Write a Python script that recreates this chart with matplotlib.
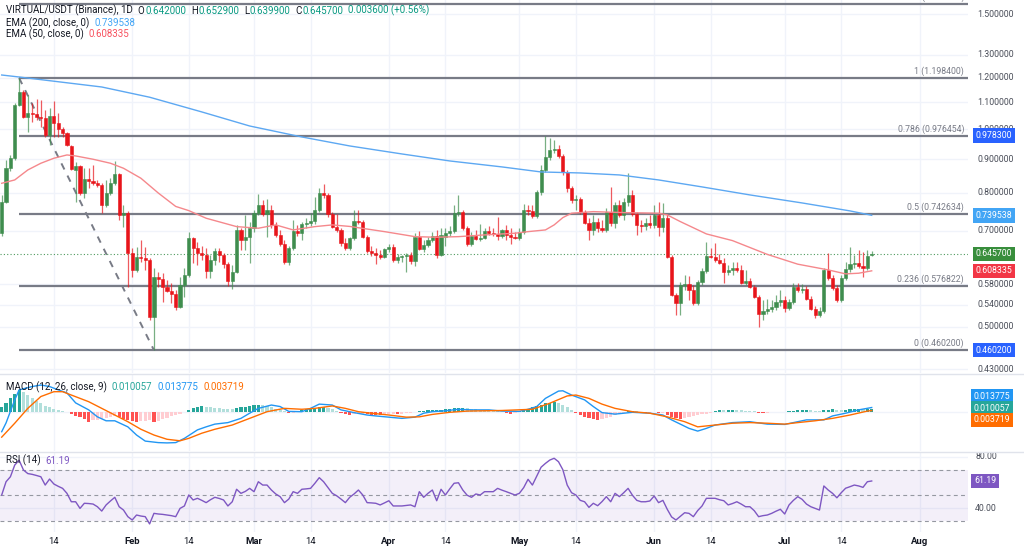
import datetime as dt
import numpy as np
import matplotlib
matplotlib.use("Agg")
import matplotlib.pyplot as plt
from matplotlib.transforms import blended_transform_factory, offset_copy
from matplotlib.lines import Line2D
from matplotlib.patches import Rectangle

plt.rcParams['font.family'] = ['Roboto', 'DejaVu Sans']

# ---------------- data ----------------
start_date = dt.date(2025, 1, 2)

opens = [0.6951, 0.7750, 0.8734, 0.9047, 1.0899, 1.1409, 1.0449, 1.0596, 1.0559, 1.0449,
 1.0412, 0.9809, 1.0485, 1.0231, 1.0018, 0.9878, 0.9437, 0.8673, 0.8796, 0.8000,
 0.8403, 0.8345, 0.8286, 0.8228, 0.7669, 0.8000, 0.8286, 0.8552, 0.7405, 0.7458,
 0.6479, 0.6103, 0.6388, 0.6366, 0.6321, 0.5174, 0.5955, 0.5913, 0.5750, 0.5670,
 0.5610, 0.5359, 0.5790, 0.5997, 0.6830, 0.6594, 0.6479, 0.6433, 0.6082, 0.6321,
 0.6525, 0.6433, 0.6233, 0.5872, 0.6060, 0.7024, 0.6782, 0.6854, 0.7074, 0.7458,
 0.7669, 0.7431, 0.7536, 0.7149, 0.6902, 0.6688, 0.6277, 0.6594, 0.6999, 0.6951,
 0.7174, 0.7200, 0.7251, 0.7536, 0.8000, 0.7944, 0.7431, 0.7099, 0.7024, 0.6712,
 0.6594, 0.6830, 0.7251, 0.7226, 0.6854, 0.6525, 0.6479, 0.6433, 0.6388, 0.6571,
 0.6617, 0.6321, 0.6388, 0.6410, 0.6433, 0.6299, 0.6854, 0.6571, 0.6664, 0.6782,
 0.6878, 0.6433, 0.6854, 0.6951, 0.6999, 0.7458, 0.7484, 0.7074, 0.6688, 0.6878,
 0.6806, 0.6830, 0.6999, 0.6951, 0.6926, 0.6878, 0.7024, 0.6902, 0.6854, 0.6830,
 0.6975, 0.7536, 0.7510, 0.7379, 0.8028, 0.8673, 0.9079, 0.9305, 0.9338, 0.9111,
 0.8612, 0.8142, 0.7805, 0.7833, 0.7484, 0.7200, 0.7024, 0.7226, 0.7074, 0.7024,
 0.7484, 0.7200, 0.7669, 0.7405, 0.7750, 0.7944, 0.7431, 0.7149, 0.7124, 0.7200,
 0.7149, 0.7405, 0.7099, 0.7327, 0.6388, 0.5590, 0.5435, 0.5790, 0.5810, 0.5689,
 0.5435, 0.5851, 0.6082, 0.6410, 0.6388, 0.6321, 0.6255, 0.6060, 0.6103, 0.6146,
 0.6103, 0.5831, 0.5872, 0.5750, 0.5551, 0.5228, 0.5284, 0.5321, 0.5359, 0.5454,
 0.5492, 0.5340, 0.5454, 0.5750, 0.5689, 0.5709, 0.5512, 0.5321, 0.5210, 0.5284,
 0.6103, 0.5934, 0.5729, 0.5492, 0.5934, 0.6125, 0.6233, 0.6255, 0.6189, 0.6146,
 0.6420]

highs = [0.7944, 0.8984, 0.9143, 1.0976, 1.1984, 1.1489, 1.1289, 1.0976, 1.1130, 1.1091,
 1.0709, 1.0785, 1.1052, 1.0596, 1.0088, 0.9913, 0.9470, 0.8921, 0.8827, 0.8734,
 0.8734, 0.8827, 0.8374, 0.8286, 0.8374, 0.8433, 0.8952, 0.8582, 0.7669, 0.7510,
 0.6594, 0.6617, 0.6782, 0.6617, 0.6366, 0.6146, 0.6060, 0.6039, 0.5892, 0.5831,
 0.5689, 0.5955, 0.6146, 0.6975, 0.6854, 0.6735, 0.6641, 0.6594, 0.6433, 0.6594,
 0.6594, 0.6479, 0.6277, 0.6211, 0.7149, 0.7074, 0.7405, 0.7226, 0.7536, 0.7972,
 0.7805, 0.7833, 0.7669, 0.7226, 0.7024, 0.6782, 0.6641, 0.7276, 0.7149, 0.7226,
 0.7327, 0.7458, 0.7889, 0.8142, 0.8257, 0.8000, 0.7484, 0.7431, 0.7074, 0.6830,
 0.6854, 0.7536, 0.7536, 0.7276, 0.6902, 0.6641, 0.6594, 0.6548, 0.6594, 0.6688,
 0.6688, 0.6456, 0.6433, 0.6479, 0.6502, 0.6951, 0.6999, 0.6782, 0.6854, 0.6975,
 0.7024, 0.7074, 0.7074, 0.7124, 0.7669, 0.7944, 0.7536, 0.7124, 0.6975, 0.7024,
 0.7174, 0.7074, 0.7124, 0.7074, 0.7353, 0.7049, 0.7149, 0.7074, 0.6975, 0.7074,
 0.7696, 0.7669, 0.7669, 0.8085, 0.8827, 0.9783, 0.9706, 0.9638, 0.9470, 0.9175,
 0.8673, 0.8199, 0.7944, 0.7889, 0.7536, 0.7327, 0.7405, 0.7327, 0.7276, 0.7589,
 0.8171, 0.7750, 0.7805, 0.7860, 0.8582, 0.8085, 0.7484, 0.7276, 0.7327, 0.7405,
 0.7669, 0.7750, 0.7723, 0.7431, 0.6433, 0.5629, 0.5851, 0.5997, 0.5976, 0.5790,
 0.5892, 0.6146, 0.6735, 0.6594, 0.6712, 0.6456, 0.6366, 0.6211, 0.6277, 0.6277,
 0.6211, 0.6103, 0.5934, 0.5790, 0.5590, 0.5492, 0.5512, 0.5492, 0.5590, 0.5689,
 0.5571, 0.5512, 0.5831, 0.5831, 0.5810, 0.5770, 0.5571, 0.5378, 0.5359, 0.6146,
 0.6479, 0.5997, 0.5790, 0.5997, 0.6277, 0.6617, 0.6433, 0.6548, 0.6502, 0.6548,
 0.6529]

lows = [0.6878, 0.7723, 0.8650, 0.8984, 1.0861, 1.0412, 0.9913, 1.0266, 1.0339, 1.0088,
 0.9740, 0.9470, 0.9740, 0.9740, 0.9740, 0.9437, 0.8673, 0.7750, 0.7944, 0.7860,
 0.8142, 0.8228, 0.8171, 0.7458, 0.7615, 0.7944, 0.8228, 0.7276, 0.7099, 0.5750,
 0.5955, 0.6060, 0.6277, 0.6103, 0.5119, 0.4602, 0.5750, 0.5454, 0.5650, 0.5435,
 0.5302, 0.5340, 0.5551, 0.5955, 0.6255, 0.6211, 0.6321, 0.5934, 0.5934, 0.6211,
 0.6277, 0.6146, 0.5770, 0.5709, 0.6039, 0.6548, 0.6548, 0.6255, 0.6975, 0.7405,
 0.7379, 0.6854, 0.7074, 0.6854, 0.6641, 0.6233, 0.6211, 0.6548, 0.6878, 0.6782,
 0.7074, 0.7124, 0.7174, 0.7484, 0.7860, 0.7353, 0.7074, 0.6975, 0.6641, 0.6548,
 0.6548, 0.6782, 0.7174, 0.6830, 0.6479, 0.6410, 0.6233, 0.6343, 0.6366, 0.6502,
 0.6277, 0.6255, 0.6277, 0.6060, 0.6233, 0.6189, 0.6548, 0.6502, 0.6617, 0.6735,
 0.6366, 0.6410, 0.6641, 0.6878, 0.6951, 0.7379, 0.7024, 0.6641, 0.6641, 0.6782,
 0.6759, 0.6806, 0.6902, 0.6878, 0.6782, 0.6830, 0.6782, 0.6688, 0.6806, 0.6782,
 0.6926, 0.7405, 0.7327, 0.7327, 0.7944, 0.8612, 0.8984, 0.9207, 0.9047, 0.8522,
 0.8028, 0.7723, 0.7536, 0.7431, 0.7174, 0.6782, 0.6902, 0.6975, 0.6975, 0.6975,
 0.7124, 0.7074, 0.7353, 0.7276, 0.7642, 0.7379, 0.6902, 0.6975, 0.7024, 0.7074,
 0.7074, 0.6878, 0.6975, 0.6366, 0.5570, 0.5210, 0.5210, 0.5689, 0.5492, 0.5397,
 0.5397, 0.5790, 0.6039, 0.6366, 0.6277, 0.6233, 0.5831, 0.5997, 0.5997, 0.6060,
 0.5810, 0.5790, 0.5729, 0.5531, 0.4995, 0.5119, 0.5228, 0.5265, 0.5302, 0.5378,
 0.5265, 0.5302, 0.5416, 0.5650, 0.5630, 0.5492, 0.5302, 0.5155, 0.5174, 0.5247,
 0.5892, 0.5689, 0.5454, 0.5454, 0.5892, 0.6060, 0.6146, 0.6146, 0.5955, 0.6103,
 0.6399]

closes = [0.7750, 0.8734, 0.9047, 1.0899, 1.1409, 1.0449, 1.0596, 1.0559, 1.0449, 1.0412,
 0.9809, 1.0485, 1.0231, 1.0018, 0.9878, 0.9470, 0.8704, 0.8796, 0.8000, 0.8403,
 0.8345, 0.8286, 0.8228, 0.7669, 0.8000, 0.8286, 0.8552, 0.7405, 0.7458, 0.6479,
 0.6103, 0.6388, 0.6366, 0.6321, 0.5174, 0.5955, 0.5913, 0.5750, 0.5670, 0.5610,
 0.5359, 0.5790, 0.5997, 0.6830, 0.6594, 0.6479, 0.6433, 0.6082, 0.6321, 0.6525,
 0.6433, 0.6233, 0.5872, 0.6060, 0.7024, 0.6782, 0.6854, 0.7074, 0.7458, 0.7669,
 0.7431, 0.7536, 0.7149, 0.6902, 0.6688, 0.6277, 0.6594, 0.6999, 0.6951, 0.7174,
 0.7200, 0.7251, 0.7536, 0.8000, 0.7944, 0.7431, 0.7099, 0.7024, 0.6712, 0.6594,
 0.6830, 0.7251, 0.7226, 0.6854, 0.6525, 0.6479, 0.6433, 0.6388, 0.6571, 0.6617,
 0.6321, 0.6388, 0.6410, 0.6433, 0.6299, 0.6854, 0.6571, 0.6664, 0.6782, 0.6878,
 0.6433, 0.6902, 0.6951, 0.6999, 0.7458, 0.7484, 0.7074, 0.6688, 0.6878, 0.6806,
 0.6830, 0.6999, 0.6951, 0.6926, 0.6878, 0.7024, 0.6902, 0.6854, 0.6830, 0.6975,
 0.7536, 0.7510, 0.7379, 0.8028, 0.8673, 0.9079, 0.9305, 0.9338, 0.9111, 0.8612,
 0.8142, 0.7805, 0.7833, 0.7484, 0.7200, 0.7024, 0.7226, 0.7074, 0.7024, 0.7484,
 0.7200, 0.7669, 0.7405, 0.7750, 0.7944, 0.7431, 0.7149, 0.7124, 0.7200, 0.7149,
 0.7405, 0.7099, 0.7327, 0.6388, 0.5590, 0.5435, 0.5790, 0.5810, 0.5689, 0.5435,
 0.5851, 0.6082, 0.6410, 0.6388, 0.6321, 0.6255, 0.6060, 0.6103, 0.6146, 0.6103,
 0.5831, 0.5872, 0.5750, 0.5551, 0.5228, 0.5284, 0.5321, 0.5359, 0.5454, 0.5492,
 0.5340, 0.5454, 0.5750, 0.5689, 0.5709, 0.5512, 0.5321, 0.5210, 0.5284, 0.6103,
 0.5934, 0.5729, 0.5492, 0.5934, 0.6125, 0.6233, 0.6255, 0.6189, 0.6146, 0.6410,
 0.6457]

ema200_idx = [0, 4, 23, 34, 46, 57, 69, 80, 92, 103, 115, 124, 133, 142, 151, 161, 172, 184, 195, 200]
ema200_val = [1.2111, 1.2026, 1.1611, 1.1201, 1.0636, 1.0123, 0.9740, 0.9437, 0.9175, 0.8952,
              0.8766, 0.8612, 0.8582, 0.8522, 0.8374, 0.8171, 0.7944, 0.7723, 0.7510, 0.7395]

ema50_idx = [0, 3, 6, 9, 12, 15, 17, 21, 25, 28, 32, 36, 40, 43, 47, 54, 59, 63, 67, 72, 76, 80,
             88, 95, 100, 105, 111, 118, 121, 125, 127, 129, 131, 136, 143, 151, 153, 156, 162,
             168, 176, 183, 190, 194, 197, 200]
ema50_val = [0.8276, 0.8374, 0.8673, 0.8880, 0.9038, 0.9143, 0.9111, 0.9006, 0.8880, 0.8725,
             0.8424, 0.7997, 0.7629, 0.7518, 0.7319, 0.7106, 0.7066, 0.7149, 0.7024, 0.7106,
             0.7149, 0.7111, 0.6982, 0.6860, 0.6846, 0.6860, 0.6902, 0.6943, 0.6982, 0.7024,
             0.7149, 0.7335, 0.7449, 0.7491, 0.7465, 0.7449, 0.7405, 0.7233, 0.6926, 0.6765,
             0.6445, 0.6227, 0.6103, 0.6018, 0.6032, 0.6083]

fib_levels = [1.272, 1.0, 0.786, 0.5, 0.236, 0.0]
fib_prices = [1.554800, 1.198400, 0.976454, 0.742634, 0.576822, 0.460200]
fib_anchor_idx = [4, 35]

macd_hist = [0.017, 0.029, 0.045, 0.058, 0.072, 0.066, 0.055, 0.045, 0.036, 0.028,
 0.020, 0.015, 0.010, 0.006, 0.003, -0.002, -0.008, -0.014, -0.018, -0.025,
 -0.033, -0.028, -0.026, -0.024, -0.020, -0.018, -0.015, -0.018, -0.024, -0.028,
 -0.032, -0.033, -0.030, -0.030, -0.028, -0.035, -0.030, -0.025, -0.020, -0.015,
 -0.010, -0.006, -0.002, 0.006, 0.012, 0.016, 0.018, 0.016, 0.014, 0.012,
 0.011, 0.010, 0.009, 0.008, 0.012, 0.015, 0.017, 0.019, 0.021, 0.023,
 0.022, 0.020, 0.015, 0.010, 0.006, 0.003, -0.005, -0.003, 0.002, 0.006,
 0.009, 0.012, 0.013, 0.015, 0.016, 0.012, 0.008, 0.003, -0.004, -0.008,
 -0.010, -0.008, -0.007, -0.006, -0.008, -0.010, -0.011, -0.012, -0.010, -0.008,
 -0.006, -0.008, -0.006, -0.005, -0.004, -0.002, 0.001, 0.003, 0.004, 0.005,
 0.006, 0.007, 0.008, 0.009, 0.011, 0.012, 0.013, 0.011, 0.009, 0.008,
 0.006, 0.005, 0.004, 0.002, 0.001, -0.002, -0.004, -0.006, -0.003, 0.003,
 0.006, 0.010, 0.014, 0.018, 0.023, 0.028, 0.030, 0.033, 0.030, 0.022,
 0.014, 0.006, -0.004, -0.011, -0.017, -0.022, -0.025, -0.026, -0.024, -0.020,
 -0.016, -0.012, -0.008, -0.004, 0.002, 0.003, 0.001, -0.002, -0.003, -0.003,
 -0.002, -0.005, -0.004, -0.010, -0.018, -0.022, -0.023, -0.020, -0.018, -0.015,
 -0.012, -0.009, -0.006, -0.003, 0.003, 0.005, 0.004, 0.005, 0.006, 0.005,
 0.004, 0.003, 0.002, 0.001, -0.003, -0.004, -0.003, -0.002, -0.002, -0.001,
 -0.001, 0.001, 0.002, 0.004, 0.005, 0.006, 0.004, 0.003, 0.002, 0.004,
 0.007, 0.008, 0.006, 0.005, 0.007, 0.008, 0.009, 0.0095, 0.009, 0.0098,
 0.010057]

macd_idx = [0, 1, 3, 4, 7, 9, 11, 13, 15, 17, 20, 22, 24, 26, 29, 31, 33, 36, 38, 40,
            42, 45, 47, 49, 52, 55, 57, 59, 62, 64, 66, 69, 71, 73, 76, 78, 81, 84, 86, 89,
            92, 95, 97, 99, 102, 105, 108, 112, 115, 119, 121, 123, 125, 128, 129, 131, 134,
            136, 138, 141, 145, 149, 152, 154, 158, 160, 162, 164, 168, 172, 176, 180, 182,
            185, 189, 191, 194, 197, 200]
macd_val = [-0.066, -0.037, 0.039, 0.072, 0.083, 0.088, 0.083, 0.072, 0.062, 0.029,
            0.006, -0.017, -0.030, -0.030, -0.050, -0.077, -0.097, -0.102, -0.103, -0.102,
            -0.088, -0.060, -0.050, -0.041, -0.036, -0.022, -0.005, 0.011, 0.022, 0.017,
            0.001, 0.000, 0.011, 0.025, 0.022, 0.006, -0.003, -0.011, -0.014, -0.018,
            -0.022, -0.018, -0.005, 0.000, 0.003, 0.008, 0.006, 0.006, 0.002, 0.001,
            0.008, 0.017, 0.044, 0.068, 0.069, 0.055, 0.039, 0.017, -0.003, -0.008,
            -0.002, -0.005, -0.011, -0.027, -0.055, -0.064, -0.055, -0.044, -0.036, -0.033,
            -0.041, -0.042, -0.036, -0.027, -0.027, -0.014, -0.005, 0.006, 0.013775]

signal_idx = [0, 3, 6, 9, 12, 14, 16, 20, 23, 26, 29, 32, 35, 38, 41, 43, 46, 49, 53, 57,
              61, 65, 69, 72, 76, 79, 82, 85, 89, 93, 96, 99, 103, 107, 111, 115, 122, 126,
              130, 132, 135, 138, 141, 145, 149, 153, 157, 160, 164, 168, 172, 176, 180, 183,
              187, 191, 195, 199, 200]
signal_val = [-0.084, -0.038, 0.011, 0.050, 0.066, 0.066, 0.055, 0.033, 0.011, -0.011,
              -0.033, -0.058, -0.077, -0.091, -0.096, -0.088, -0.071, -0.058, -0.044, -0.022,
              0.000, 0.011, 0.008, 0.011, 0.019, 0.011, 0.000, -0.005, -0.011, -0.018,
              -0.017, -0.009, -0.002, 0.002, 0.003, 0.004, 0.008, 0.028, 0.052, 0.055,
              0.044, 0.025, 0.011, 0.000, -0.005, -0.017, -0.033, -0.050, -0.044, -0.038,
              -0.036, -0.038, -0.041, -0.036, -0.030, -0.022, -0.011, 0.002, 0.003719]

rsi = [50.2, 60.6, 64.5, 73.7, 77.5, 69.8, 67.0, 66.4, 65.5, 64.5,
 58.0, 62.7, 58.8, 57.0, 55.4, 51.5, 44.9, 44.9, 39.7, 43.7,
 43.5, 43.1, 41.0, 37.6, 42.4, 45.5, 48.4, 41.0, 38.4, 33.2,
 30.6, 34.5, 33.7, 33.2, 27.5, 35.8, 35.3, 35.0, 34.5, 34.0,
 33.2, 39.7, 41.6, 50.2, 46.3, 47.6, 46.0, 44.2, 46.5, 48.4,
 47.5, 46.3, 41.6, 44.9, 54.7, 51.5, 53.0, 55.4, 52.8, 60.6,
 58.0, 58.0, 54.1, 51.0, 48.9, 44.2, 47.0, 52.8, 51.5, 54.7,
 55.0, 55.4, 59.4, 63.8, 60.6, 56.0, 51.5, 49.6, 47.0, 44.2,
 48.4, 51.0, 54.1, 50.2, 44.2, 44.0, 43.7, 42.4, 44.0, 45.7,
 41.6, 41.6, 41.6, 42.0, 42.4, 41.0, 52.8, 48.4, 51.5, 54.1,
 45.7, 54.7, 50.2, 55.0, 59.4, 59.8, 54.1, 50.0, 48.4, 51.0,
 50.2, 52.8, 52.8, 52.8, 55.4, 54.0, 52.8, 51.5, 50.2, 51.5,
 56.0, 62.5, 58.0, 65.0, 72.0, 75.0, 77.6, 79.0, 76.3, 70.0,
 58.0, 52.0, 50.2, 46.0, 44.9, 40.5, 43.7, 41.8, 45.0, 48.9,
 44.9, 51.5, 48.9, 52.0, 55.4, 50.0, 46.0, 44.9, 44.9, 45.5,
 49.4, 44.2, 46.0, 39.0, 33.0, 30.6, 33.5, 36.3, 35.8, 33.2,
 38.0, 41.6, 47.6, 47.6, 47.6, 46.5, 45.7, 42.4, 43.5, 44.9,
 43.1, 41.0, 41.0, 37.9, 33.2, 34.0, 34.5, 35.8, 37.5, 39.0,
 35.3, 42.4, 46.0, 48.9, 46.8, 43.1, 41.0, 39.7, 38.4, 57.3,
 54.1, 51.5, 48.0, 52.0, 55.5, 56.7, 58.0, 57.3, 56.2, 60.6,
 61.19]

price_ticks = [1.5, 1.3, 1.2, 1.1, 1.0, 0.9, 0.8, 0.7, 0.58, 0.54, 0.50, 0.43]
rsi_ticks = [80, 40]
tick_dates = [dt.date(2025, 1, 14), dt.date(2025, 2, 1), dt.date(2025, 2, 14), dt.date(2025, 3, 1),
              dt.date(2025, 3, 14), dt.date(2025, 4, 1), dt.date(2025, 4, 14), dt.date(2025, 5, 1),
              dt.date(2025, 5, 14), dt.date(2025, 6, 1), dt.date(2025, 6, 14), dt.date(2025, 7, 1),
              dt.date(2025, 7, 14), dt.date(2025, 8, 1)]
tick_labels = ['14', 'Feb', '14', 'Mar', '14', 'Apr', '14', 'May', '14', 'Jun', '14', 'Jul', '14', 'Aug']

# ---------------- layout ----------------
W, H = 1024, 557
fig = plt.figure(figsize=(W / 100, H / 100), dpi=100)
fig.patch.set_facecolor('white')
PR = 968  # right edge of plotting area in px
FS = 6.3
FSL = 7.0
TXT = '#131722'
AXT = '#4a4e59'
GRID = '#f0f3fa'
FIBC = '#787b86'
UP = '#3f8d4e'
DN = '#e8151b'


def add_ax(y0, y1):
    return fig.add_axes([0, 1 - y1 / H, PR / W, (y1 - y0) / H])


ax = add_ax(0, 373)
axm = add_ax(374, 451)
axr = add_ax(452, 532)

n = len(closes)
x = np.arange(n)
XMIN = -1.7 / 4.35
XMAX = (PR - 1.7) / 4.35
tick_pos = [(d - start_date).days for d in tick_dates]

for a in (ax, axm, axr):
    a.set_xlim(XMIN, XMAX)
    for s in a.spines.values():
        s.set_visible(False)
    a.set_facecolor('none')
    for p in tick_pos:
        a.axvline(p, color=GRID, lw=1, zorder=0)

ax.set_yscale('log')
ax.set_ylim(0.4247, 1.5766)
axm.set_ylim(-0.1297, 0.1244)
axr.set_ylim(21.18, 83.92)
for a in (ax, axm, axr):
    a.tick_params(which='both', left=False, right=False, bottom=False, top=False,
                  labelleft=False, labelbottom=False)
    a.yaxis.set_minor_locator(matplotlib.ticker.NullLocator())

# separators
for yy in (373.5, 451.5):
    fig.add_artist(Line2D([0, 1], [1 - yy / H, 1 - yy / H], color='#e0e3eb', lw=1))

# clip region for the main price scale (main pane height, full width)
main_clip = Rectangle((0, 1 - 373 / H), 1, 373 / H, transform=fig.transFigure,
                      fc='none', ec='none')

# ---------------- main pane ----------------
for v in price_ticks:
    ax.axhline(v, color=GRID, lw=1, zorder=0)

o = np.array(opens); c = np.array(closes); hi = np.array(highs); lo = np.array(lows)
up = c >= o
cols = np.where(up, UP, DN)
ax.vlines(x, lo, hi, colors=cols, lw=0.9, alpha=0.7, zorder=3)
bottom = np.minimum(o, c)
height = np.abs(c - o)
ax.bar(x, height, width=0.72, bottom=bottom, color=cols, edgecolor=cols, lw=0.4, zorder=4)

ax.plot(ema200_idx, ema200_val, color='#5da8f2', lw=1.0, zorder=5)
ax.plot(ema50_idx, ema50_val, color='#f5888c', lw=1.0, zorder=5)

# fibonacci retracement
ax.hlines(fib_prices, fib_anchor_idx[0], XMAX, color=FIBC, lw=1.6, zorder=2)
ax.plot(fib_anchor_idx, [fib_prices[1], fib_prices[-1]], color=FIBC, lw=1.4,
        ls=(0, (3.5, 3.5)), zorder=2)
lab_tr = offset_copy(blended_transform_factory(ax.transAxes, ax.transData), fig=fig, y=2.0, units='dots')
for lvl, p in zip(fib_levels, fib_prices):
    ax.text(964 / PR, p, f"{lvl:g} ({p:.6f})", transform=lab_tr, ha='right', va='bottom',
            color=FIBC, fontsize=FS, clip_on=True, zorder=6)

ax.axhline(closes[-1], color='#4e9a5e', lw=0.8, ls=(0, (1, 2)), zorder=2)

btr = blended_transform_factory(ax.transAxes, ax.transData)
for v in price_ticks:
    t = ax.text(977 / PR, v, f"{v:.6f}", transform=btr, ha='left', va='center', fontsize=FS,
                color=AXT, clip_on=True, zorder=7)
    t.set_clip_path(main_clip)


def box(a, yv, txt, fc, cx=993.7):
    a.text(cx / PR, yv, txt, transform=blended_transform_factory(a.transAxes, a.transData),
           ha='center', va='center', color='white', fontsize=FS, clip_on=False, zorder=9,
           bbox=dict(boxstyle='square,pad=0.32', fc=fc, ec='none'))


box(ax, highs[125], f"{highs[125]:.6f}", '#2962ff')
box(ax, ema200_val[-1], '0.739538', '#42a5f5')
box(ax, closes[-1], f"{closes[-1]:.6f}", '#388e3c')
box(ax, ema50_val[-1], '0.608335', '#f23645')
box(ax, fib_prices[-1], f"{fib_prices[-1]:.6f}", '#2962ff')

# ---------------- MACD pane ----------------
axm.axhline(0, color=GRID, lw=1, zorder=0)
hist = np.array(macd_hist)
hcols = []
for i, h in enumerate(hist):
    prev = hist[i - 1] if i > 0 else h
    if h >= 0:
        hcols.append('#26a69a' if h >= prev else '#b2dfdb')
    else:
        hcols.append('#ff5252' if h < prev else '#ffcdd2')
axm.bar(x, hist, width=0.72, color=hcols, zorder=2)
axm.plot(macd_idx, macd_val, color='#2196f3', lw=1.0, zorder=3)
axm.plot(signal_idx, signal_val, color='#ff6d00', lw=1.0, zorder=3)

for ypx, t, fc in [(396.7, '0.013775', '#2196f3'), (408.2, '0.010057', '#26a69a'),
                   (419.8, '0.003719', '#ff6d00')]:
    fig.text(992 / W, 1 - ypx / H, t, ha='center', va='center', color='white', fontsize=FS,
             bbox=dict(boxstyle='square,pad=0.32', fc=fc, ec='none'))

# ---------------- RSI pane ----------------
for v in rsi_ticks:
    axr.axhline(v, color=GRID, lw=1, zorder=0)
axr.axhspan(30, 70, color='#7e57c2', alpha=0.09, lw=0, zorder=1)
for v in (70, 50, 30):
    axr.axhline(v, color='#9598a1', lw=0.8, ls=(0, (3.5, 3)), zorder=2)
axr.plot(x, rsi, color='#7e57c2', lw=1.0, zorder=3)
rtr = blended_transform_factory(axr.transAxes, axr.transData)
for v in rsi_ticks:
    axr.text(975 / PR, v, f"{v:.2f}", transform=rtr, ha='left', va='center', fontsize=FS,
             color=AXT, clip_on=False)
box(axr, rsi[-1], f"{rsi[-1]:.2f}", '#7e57c2', cx=985)

# ---------------- x labels ----------------
xtr = blended_transform_factory(axr.transData, fig.transFigure)
for p, lab in zip(tick_pos, tick_labels):
    fig.text(p, 1 - 542 / H, lab, transform=xtr, ha='center', va='center', fontsize=FS + 0.5,
             color=TXT, fontweight='bold' if not lab.isdigit() else 'normal')

# ---------------- legends ----------------
renderer = fig.canvas.get_renderer()


def seq_text(y_px, pieces, x_px=6):
    xx = x_px
    for txt, col, gap in pieces:
        t = fig.text(xx / W, 1 - y_px / H, txt, color=col, fontsize=FSL, ha='left', va='center')
        bb = t.get_window_extent(renderer)
        xx += bb.width + gap


G = '#089981'
seq_text(10.7, [("VIRTUAL/USDT (Binance), 1D", TXT, 5),
                ("O", TXT, 0.5), (f"{opens[-1]:.6f}", G, 5),
                ("H", TXT, 0.5), (f"{highs[-1]:.6f}", G, 5),
                ("L", TXT, 0.5), (f"{lows[-1]:.6f}", G, 5),
                ("C", TXT, 0.5), (f"{closes[-1]:.6f}", G, 5),
                ("0.003600 (+0.56%)", G, 0)])
seq_text(23.3, [("EMA (200, close, 0)", TXT, 5), ("0.739538", '#42a5f5', 0)])
seq_text(34.0, [("EMA (50, close, 0)", TXT, 5), ("0.608335", '#f7525f', 0)])
seq_text(387.3, [("MACD (12, 26, close, 9)", TXT, 5), ("0.010057", '#26a69a', 5),
                 ("0.013775", '#2196f3', 5), ("0.003719", '#ff6d00', 0)])
seq_text(460.7, [("RSI (14)", TXT, 5), (f"{rsi[-1]:.2f}", '#7e57c2', 0)])

fig.savefig('out.png', dpi=100)
